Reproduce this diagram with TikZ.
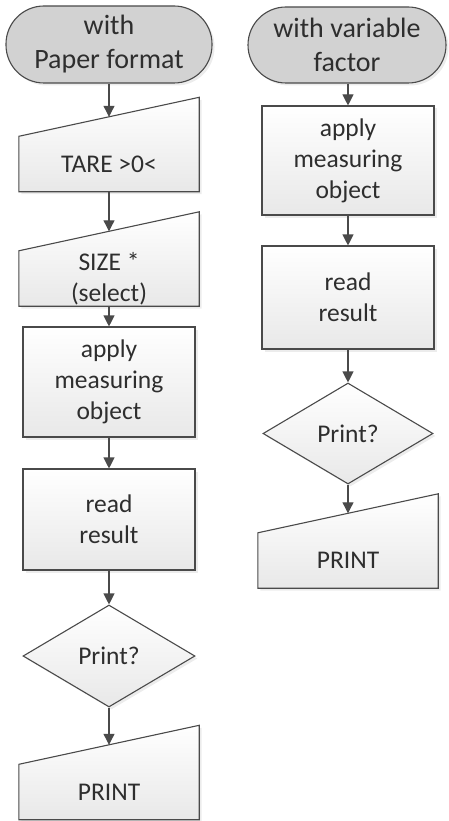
\documentclass[tikz,border=0pt]{standalone}
\usepackage{fontspec}
\setmainfont{Carlito}
\usetikzlibrary{arrows.meta,shapes.geometric,shadows,backgrounds}
\definecolor{flowline}{HTML}{4A4A4A}
\definecolor{flowtext}{HTML}{2E2E2E}
\definecolor{startfill}{HTML}{D2D2D2}

\begin{document}
\begin{tikzpicture}[x=1pt,y=-1pt,
  every node/.style={text=flowtext, align=center, font=\fontsize{25.5}{31}\selectfont},
  softshadow/.style={drop shadow={shadow xshift=2.5pt, shadow yshift=-2.5pt, fill=black!12, opacity=0.6}},
  start/.style={draw=flowline, line width=1.1pt, rectangle, rounded corners=38pt, fill=startfill, minimum width=206pt, minimum height=77pt, font=\fontsize{28}{34}\selectfont, softshadow},
  box/.style={draw=flowline, line width=1.1pt, rectangle, top color=white, bottom color=black!9, minimum width=172pt, softshadow},
  decision/.style={draw=flowline, line width=1.1pt, diamond, aspect=1.7, inner sep=0pt, top color=white, bottom color=black!9, minimum width=172pt, minimum height=102pt, softshadow},
  manual/.style={rectangle, inner sep=0pt, minimum width=180pt, minimum height=55pt},
  manualshape/.style={draw=flowline, line width=1.1pt, top color=white, bottom color=black!9, softshadow},
  flow/.style={-{Triangle[length=11pt,width=11pt]}, draw=flowline, line width=1.1pt}]
\useasboundingbox (0,0) rectangle (449,821);

% left column
\node[start] (paperstart) at (109,44.5) {with\\Paper format};
\node[manual] (tare) at (109,164) {TARE >0<};
\node[manual] (size) at (109,278.5) {SIZE *\\(select)};
\node[box, minimum height=110pt] (applyL) at (109,382) {apply\\measuring\\object};
\node[box, minimum height=101pt] (readL) at (109,519.5) {read\\result};
\node[decision] (printqL) at (109,656) {Print?};
\node[manual] (printL) at (109,792) {PRINT};

% right column
\node[start, minimum width=198pt, minimum height=76pt] (varstart) at (347,45) {with variable\\factor};
\node[box, minimum height=109pt] (applyR) at (348,160.5) {apply\\measuring\\object};
\node[box, minimum height=103pt] (readR) at (348,297.5) {read\\result};
\node[decision, minimum width=170pt, minimum height=101pt] (printqR) at (348,433.5) {Print?};
\node[manual] (printR) at (348,560.5) {PRINT};

% manual input outlines
\begin{scope}[on background layer]
\foreach \n in {tare,size,printL,printR}
  \draw[manualshape] (\n.south west) -- (\n.south east) -- ([yshift=39pt]\n.north east) -- (\n.north west) -- cycle;
\end{scope}
\foreach \n in {tare,size,printL,printR}
  \coordinate (\n-top) at ([yshift=19.5pt]\n.north);

\draw[flow] (paperstart.south) -- (tare-top);
\draw[flow] (tare.south) -- (size-top);
\draw[flow] (size.south) -- (applyL.north);
\draw[flow] (applyL.south) -- (readL.north);
\draw[flow] (readL.south) -- (printqL.north);
\draw[flow] (printqL.south) -- (printL-top);

\draw[flow] (varstart.south -| applyR) -- (applyR.north);
\draw[flow] (applyR.south) -- (readR.north);
\draw[flow] (readR.south) -- (printqR.north);
\draw[flow] (printqR.south) -- (printR-top);
\end{tikzpicture}
\end{document}
